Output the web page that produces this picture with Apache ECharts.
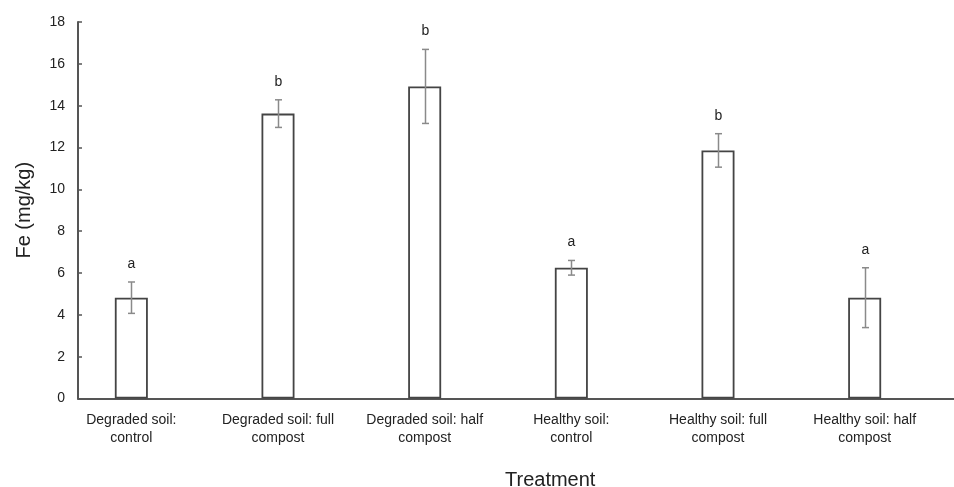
<!DOCTYPE html>
<html>
<head>
<meta charset="utf-8">
<script src="https://cdn.jsdelivr.net/npm/echarts@6/dist/echarts.min.js"></script>
<style>html,body{margin:0;padding:0;background:#fff;}#c{width:954px;height:487px;}</style>
</head>
<body>
<div id="c"></div>
<script>
var categories = ['Degraded soil:\ncontrol', 'Degraded soil: full\ncompost', 'Degraded soil: half\ncompost', 'Healthy soil:\ncontrol', 'Healthy soil: full\ncompost', 'Healthy soil: half\ncompost'];
var means = [4.82, 13.62, 14.92, 6.25, 11.86, 4.82];
var errors = [0.75, 0.66, 1.77, 0.35, 0.80, 1.43];
var letters = ['a', 'b', 'b', 'a', 'b', 'a'];
var yTicks = [0, 2, 4, 6, 8, 10, 12, 14, 16, 18];

var font = '"Liberation Sans", Arial, sans-serif';
var chart = echarts.init(document.getElementById('c'), null, {renderer: 'canvas'});

var errData = means.map(function (m, i) { return [i, m - errors[i], m + errors[i], letters[i]]; });

chart.setOption({
  animation: false,
  backgroundColor: '#ffffff',
  title: {
    text: 'Treatment', left: 500, top: 465,
    textStyle: {fontFamily: font, fontSize: 20, fontWeight: 'normal', color: '#222'}
  },
  grid: [
    {left: 58, right: 16, top: 22, bottom: 88.5, containLabel: false},
    {left: 78, right: 0, top: 22, bottom: 88.5, containLabel: false}
  ],
  xAxis: [
    {
      type: 'category', gridIndex: 0, data: categories,
      axisLine: {show: false}, axisTick: {show: false},
      axisLabel: {fontFamily: font, fontSize: 14, color: '#222', margin: 13, lineHeight: 18, interval: 0}
    },
    {
      type: 'category', gridIndex: 1, data: [''],
      axisLine: {show: true, lineStyle: {color: '#555', width: 2}},
      axisTick: {show: false}, axisLabel: {show: false}
    }
  ],
  yAxis: [
    {
      type: 'value', gridIndex: 0, min: 0, max: 18, interval: 2, offset: -20,
      name: 'Fe (mg/kg)', nameLocation: 'middle', nameGap: 44,
      nameTextStyle: {fontFamily: font, fontSize: 20, color: '#222'},
      axisLine: {show: true, lineStyle: {color: '#555', width: 2}},
      axisTick: {show: true, inside: true, length: 4, lineStyle: {color: '#555', width: 1.5}},
      axisLabel: {fontFamily: font, fontSize: 14, color: '#222', margin: 13,
        formatter: function (v) { return yTicks.indexOf(v) >= 0 ? String(v) : ''; }},
      splitLine: {show: false}
    },
    {
      type: 'value', gridIndex: 1, min: 0, max: 18, show: false
    }
  ],
  series: [
    {
      type: 'bar', xAxisIndex: 0, yAxisIndex: 0, data: means, barWidth: 33,
      itemStyle: {color: '#ffffff', borderColor: '#444', borderWidth: 1.8},
      z: 2
    },
    {
      type: 'custom', xAxisIndex: 0, yAxisIndex: 0, data: errData, z: 3,
      renderItem: function (params, api) {
        var x = api.value(0);
        var lo = api.coord([x, api.value(1)]);
        var hi = api.coord([x, api.value(2)]);
        var cx = Math.round(lo[0]) + 0.5;
        var cap = 3.5;
        var st = {stroke: '#8a8a8a', lineWidth: 1.5};
        return {
          type: 'group',
          children: [
            {type: 'line', shape: {x1: cx, y1: lo[1], x2: cx, y2: hi[1]}, style: st},
            {type: 'line', shape: {x1: cx - cap, y1: lo[1], x2: cx + cap, y2: lo[1]}, style: st},
            {type: 'line', shape: {x1: cx - cap, y1: hi[1], x2: cx + cap, y2: hi[1]}, style: st},
            {type: 'text', style: {x: cx, y: hi[1] - 18, text: api.value(3), fill: '#222',
              font: '14px ' + font, textAlign: 'center', textVerticalAlign: 'middle'}}
          ]
        };
      }
    }
  ]
});
</script>
</body>
</html>
